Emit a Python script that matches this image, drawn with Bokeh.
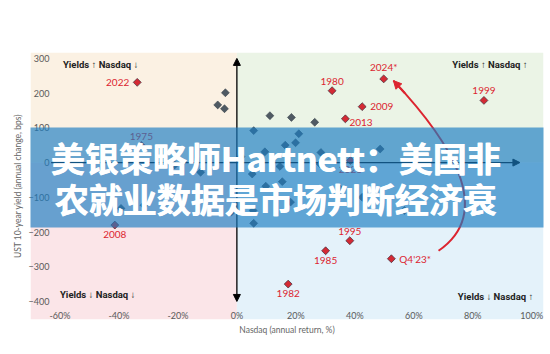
import numpy as np
from bokeh.plotting import figure
from bokeh.models import (ColumnDataSource, BoxAnnotation, Label, Arrow, NormalHead,
                          FixedTicker, PrintfTickFormatter, Range1d)
from bokeh.core.properties import value
from bokeh.embed import file_html
from bokeh.resources import INLINE

# ---------------- data ----------------
# other years (Nasdaq annual return %, change in UST 10y yield bps)
other_x = [11.2, 18.5, 26.4, -3.9, -6.5, -4.2, 5.7, 21.0, 19.9, 16.4, 14.6, -12.3, 5.2, 15.4,
           5.5, 18.2, 5.7, 42.5, 28.5, 48.6, 9.5, 28.2, 35.2, 9.8, -1.8, -21.1, -31.5, -39.3, 56.8, 1.4]
other_y = [135, 130, 116, 201, 166, 155, 92, 83, 57, 50, -11, -28, -33, -55,
           -138, -114, -175, -100, 29, 39, 31, -4, -77, -68, -142, -7, -123, -132, -138, 17]

# highlighted years
hl_year = ["2022", "1980", "2024*", "2009", "2013", "1999", "2008", "1995", "1985",
           "Q4'23*", "1982", "1975", "2023"]
hl_x = [-33.8, 32.3, 49.8, 42.5, 36.8, 83.8, -41.4, 38.3, 30.1, 52.4, 17.4, -32.4, 38.5]
hl_y = [231, 207, 241, 161, 126, 179, -180, -225, -254, -277, -350, 49, 6]
hl_place = ["left", "above", "above", "right", "rightdown", "above", "below", "above",
            "below", "right", "below", "above", "below"]

x_ticks = [-60, -40, -20, 0, 20, 40, 60, 80, 100]
y_ticks = [-400, -300, -200, -100, 0, 100, 200, 300]

quadrant_text = ["Yields \u2191 Nasdaq \u2193", "Yields \u2191 Nasdaq \u2191",
                 "Yields \u2193 Nasdaq \u2193", "Yields \u2193 Nasdaq \u2191"]

# red "return path" curve from Q4'23 to 2024 (bezier: start, ctrl0, ctrl1, end)
curve_x = [68.4, 88.0, 72.0, 53.1]
curve_y = [-254, -140, 65, 236]

banner_lines = ["美银策略师Hartnett：美国非", "农就业数据是市场判断经济衰"]

# ---------------- figure ----------------
W, H = 550, 354
FL, FR, FT, FB = 30, 7, 52, 35
p = figure(width=W, height=H, x_range=Range1d(-70, 104), y_range=Range1d(-452, 317),
           output_backend="svg", toolbar_location=None,
           min_border_left=FL, min_border_right=FR, min_border_top=FT, min_border_bottom=FB)
p.grid.visible = False
p.outline_line_color = None
p.background_fill_color = "white"
p.border_fill_color = "white"

FONT = "Lato"

# axes: labels inside the shaded area
p.xaxis.ticker = FixedTicker(ticks=x_ticks)
p.xaxis.formatter = PrintfTickFormatter(format="%d%%")
p.yaxis.ticker = FixedTicker(ticks=y_ticks)
for ax in (p.xaxis, p.yaxis):
    ax.axis_line_color = None
    ax.major_tick_line_color = None
    ax.minor_tick_line_color = None
    ax.major_tick_out = 0
    ax.major_tick_in = 0
    ax.major_label_text_font = FONT
    ax.major_label_text_font_size = "9px"
    ax.major_label_text_color = "#5a5a5a"
    ax.axis_label_text_font = FONT
    ax.axis_label_text_font_size = "8.5px"
    ax.axis_label_text_font_style = "normal"
    ax.axis_label_text_color = "#666666"
p.xaxis.major_label_standoff = -10
p.xaxis.axis_label = "Nasdaq (annual return, %)"
p.xaxis.axis_label_standoff = 1
p.yaxis.major_label_standoff = -19
p.yaxis.axis_label = "UST 10-year yield (annual change, bps)"
p.yaxis.axis_label_standoff = 3

# quadrant shading
for l, r, b, t, c in [(None, 0, 0, None, "#fbf1e3"), (0, None, 0, None, "#ebf4e6"),
                      (None, 0, None, 0, "#fbe5e8"), (0, None, None, 0, "#e4f2fa")]:
    p.add_layout(BoxAnnotation(left=l, right=r, bottom=b, top=t, fill_color=c,
                               fill_alpha=1, line_color=None, level="underlay"))

# axes arrows
p.add_layout(Arrow(x_start=0, y_start=-400, x_end=0, y_end=300,
                   start=NormalHead(size=7, fill_color="black", line_color="black"),
                   end=NormalHead(size=7, fill_color="black", line_color="black"),
                   line_color="black", line_width=1.3))
p.add_layout(Arrow(x_start=-63, y_start=0, x_end=96, y_end=0,
                   end=NormalHead(size=7, fill_color="black", line_color="black"),
                   line_color="black", line_width=1.2))

# red curve
RED = "#dc2530"
p.bezier(x0=[curve_x[0]], y0=[curve_y[0]], cx0=[curve_x[1]], cy0=[curve_y[1]],
         cx1=[curve_x[2]], cy1=[curve_y[2]], x1=[curve_x[3]], y1=[curve_y[3]],
         line_color=RED, line_width=2)
t = 0.93
bx = ((1 - t) ** 3 * curve_x[0] + 3 * (1 - t) ** 2 * t * curve_x[1]
      + 3 * (1 - t) * t ** 2 * curve_x[2] + t ** 3 * curve_x[3])
by = ((1 - t) ** 3 * curve_y[0] + 3 * (1 - t) ** 2 * t * curve_y[1]
      + 3 * (1 - t) * t ** 2 * curve_y[2] + t ** 3 * curve_y[3])
p.add_layout(Arrow(x_start=bx, y_start=by, x_end=curve_x[3], y_end=curve_y[3],
                   end=NormalHead(size=8, fill_color=RED, line_color=RED),
                   line_color=RED, line_width=2))

# points
ang = np.pi / 4
p.scatter(other_x, other_y, marker="square", angle=ang, size=5.6,
          fill_color="#4f5a63", line_color="#38424a", line_width=0.6)
p.scatter(hl_x, hl_y, marker="square", angle=ang, size=5.6,
          fill_color="#d42a34", line_color="#3a2b3a", line_width=0.7)

place_style = {
    "left": dict(text_align="right", text_baseline="middle", x_offset=-8, y_offset=0),
    "right": dict(text_align="left", text_baseline="middle", x_offset=8, y_offset=0),
    "rightdown": dict(text_align="left", text_baseline="middle", x_offset=4, y_offset=4),
    "above": dict(text_align="center", text_baseline="bottom", x_offset=0, y_offset=-6),
    "below": dict(text_align="center", text_baseline="top", x_offset=0, y_offset=6),
}
for key, st in place_style.items():
    idx = [i for i, pl in enumerate(hl_place) if pl == key]
    if not idx:
        continue
    src = ColumnDataSource(dict(x=[hl_x[i] for i in idx], y=[hl_y[i] for i in idx],
                                t=[hl_year[i] for i in idx]))
    p.text("x", "y", text="t", source=src, text_font=value(FONT), text_font_size="10px",
           text_color=RED, **st)

# quadrant captions
q_pos = [(-59, 282, "left"), (98.6, 282, "right"), (-60, -380, "left"), (100.5, -386, "right")]
for txt, (qx, qy, al) in zip(quadrant_text, q_pos):
    p.add_layout(Label(x=qx, y=qy, text=txt, text_align=al, text_baseline="middle",
                       text_font="Roboto", text_font_style="bold", text_font_size="9.5px",
                       text_color="#222222"))

# titles (screen units relative to frame: x from frame left, y up from frame bottom)
fb = H - FB  # frame bottom in canvas px
p.add_layout(Label(x=6 - FL, y=fb - 19, x_units="screen", y_units="screen",
                   text="Chart 2: Forever blowing bubbles", text_font=FONT,
                   text_font_style="bold", text_font_size="14.5px", text_color="#222222",
                   text_baseline="alphabetic"))
p.add_layout(Label(x=6 - FL, y=fb - 33.5, x_units="screen", y_units="screen",
                   text="Nasdaq annual return (%) vs annual change in 10-year Treasury yield (%)",
                   text_font=FONT, text_font_size="12px", text_color="#444444",
                   text_baseline="alphabetic"))
p.add_layout(Label(x=6 - FL, y=fb - 347, x_units="screen", y_units="screen",
                   text="Source:", text_font=FONT, text_font_style="bold",
                   text_font_size="10px", text_color="#222222", text_baseline="alphabetic"))
p.add_layout(Label(x=53 - FL, y=fb - 347, x_units="screen", y_units="screen",
                   text="BofA Global Investment Strategy, Bloomberg; *Note: Q4\u201923 annualized, 2024 YTD annualized through Jan 29\u1d57\u02b0",
                   text_font=FONT, text_font_size="10px", text_color="#333333",
                   text_baseline="alphabetic"))

# overlay banner
p.add_layout(BoxAnnotation(left=0 - FL, right=W - FL, bottom=fb - 227, top=fb - 127,
                           left_units="screen", right_units="screen",
                           bottom_units="screen", top_units="screen",
                           fill_color="#1a7cc2", fill_alpha=0.66, line_color=None,
                           level="overlay"))
for line, cy in zip(banner_lines, [157, 198]):
    for dx in (0, 0.8):
        p.add_layout(Label(x=W / 2 - FL + dx, y=fb - cy, x_units="screen", y_units="screen",
                           text=line, text_align="center", text_baseline="middle",
                           text_font="Noto Sans CJK SC", text_font_style="bold",
                           text_font_size="34px", text_color="white", level="overlay"))

open("out.html", "w").write(file_html(p, INLINE))
